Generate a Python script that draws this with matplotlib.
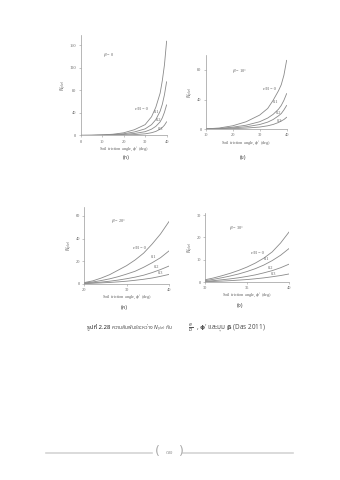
import numpy as np
import matplotlib
matplotlib.use("Agg")
import matplotlib.pyplot as plt

# soil friction angle (deg) and N_gamma(e)
eb_labels = ["e/B = 0", "0.1", "0.2", "0.3"]

phi_a = [0, 5, 10, 15, 20, 25, 30, 33, 35, 37, 38, 39, 40]
ng_a = [
    [0, 0.2, 0.8, 2.0, 4.5, 10, 19, 33, 50, 75, 97, 125, 167],
    [0, 0.1, 0.5, 1.2, 2.8, 6.0, 11.5, 19, 28, 43, 55, 72, 95],
    [0, 0.05, 0.3, 0.7, 1.6, 3.3, 6.5, 11, 16, 24, 31, 41, 54],
    [0, 0.0, 0.1, 0.3, 0.6, 1.3, 2.7, 4.7, 7, 11, 14, 18, 24],
]

phi_b = [10, 15, 20, 25, 30, 33, 35, 37, 38, 39, 40]
ng_b = [
    [0.3, 1.5, 4.5, 10, 19, 28, 39, 52, 60, 73, 93],
    [0.2, 0.9, 2.6, 5.3, 10, 15, 20, 27, 32, 39, 48],
    [0.1, 0.5, 1.6, 3.2, 6.2, 9.5, 13, 18, 21, 26, 32],
    [0.0, 0.2, 0.6, 1.4, 2.8, 4.5, 6.3, 9, 11, 13, 16],
]

phi_c = [20, 22, 24, 26, 28, 30, 32, 34, 36, 38, 40]
ng_c = [
    [1.0, 2.5, 5.0, 8.0, 12, 16, 21, 27, 35, 44, 55],
    [0.6, 1.5, 2.8, 4.3, 6.2, 8.5, 11, 14.5, 18.5, 23, 29],
    [0.3, 0.8, 1.4, 2.2, 3.2, 4.4, 5.8, 7.5, 9.8, 12.5, 15.6],
    [0.1, 0.4, 0.7, 1.1, 1.6, 2.2, 3.0, 3.9, 5.0, 6.5, 8.2],
]

phi_d = [30, 31, 32, 33, 34, 35, 36, 37, 38, 39, 40]
ng_d = [
    [1.0, 1.8, 2.8, 3.9, 5.2, 6.7, 8.5, 10.7, 13.5, 17.5, 22.4],
    [0.6, 1.2, 1.9, 2.7, 3.6, 4.7, 6.0, 7.6, 9.6, 12, 15],
    [0.3, 0.6, 1.0, 1.4, 1.9, 2.5, 3.2, 4.1, 5.1, 6.4, 8.0],
    [0.1, 0.25, 0.4, 0.6, 0.85, 1.1, 1.45, 1.85, 2.35, 2.9, 3.6],
]

beta_text = [r"$\beta$ = 0", r"$\beta$ = 10°", r"$\beta$ = 20°", r"$\beta$ = 30°"]
panel_names = ["(ก)", "(ข)", "(ค)", "(ง)"]

# curve label positions (data coords) per panel
lab_pos = [
    [(28.4, 46.6), (35.3, 40.7), (36.4, 27), (37.4, 11)],
    [(33.8, 53.8), (35.8, 36.6), (36.9, 22), (37.2, 10.4)],
    [(33.1, 31.8), (36.4, 23.2), (37.1, 14.4), (37.9, 9.1)],
    [(36.2, 12.8), (37.3, 10.2), (37.8, 6.4), (38.2, 3.6)],
]

thai = ["Noto Sans Thai", "Loma", "Garuda", "Noto Sans", "DejaVu Sans"]
serif = "Liberation Serif"
gray = "#8a8a8a"
tgray = "#666666"

fig = plt.figure(figsize=(3.4, 4.8), dpi=100)

panels = [
    ([0.237, 0.718, 0.253, 0.209], phi_a, ng_a, (0, 40), [0, 10, 20, 30, 40], (0, 178), [0, 40, 80, 120, 160], (0.26, 0.79)),
    ([0.605, 0.731, 0.238, 0.154], phi_b, ng_b, (10, 40), [10, 20, 30, 40], (0, 100), [0, 40, 80], (0.33, 0.77)),
    ([0.248, 0.409, 0.249, 0.160], phi_c, ng_c, (20, 40), [20, 30, 40], (0, 68), [0, 20, 40, 60], (0.32, 0.8)),
    ([0.603, 0.4125, 0.247, 0.144], phi_d, ng_d, (30, 40), [30, 35, 40], (0, 31), [0, 10, 20, 30], (0.29, 0.77)),
]

for i, (rect, phi, ngs, xl, xt, yl, yt, bpos) in enumerate(panels):
    ax = fig.add_axes(rect)
    for ng in ngs:
        ax.plot(phi, ng, color=gray, lw=0.6)
    ax.set_xlim(*xl)
    ax.set_ylim(*yl)
    ax.set_xticks(xt)
    ax.set_yticks(yt)
    for s in ["top", "right"]:
        ax.spines[s].set_visible(False)
    for s in ["left", "bottom"]:
        ax.spines[s].set_color("#9a9a9a")
        ax.spines[s].set_linewidth(0.5)
    ax.tick_params(labelsize=3.2, colors="#9a9a9a", labelcolor=tgray, length=1.5, width=0.4, pad=1.5)
    for lab in ax.get_xticklabels() + ax.get_yticklabels():
        lab.set_family(serif)
    ax.set_xlabel("Soil friction angle, $\\phi'$ (deg)", fontsize=3.2, family=serif, color=tgray, labelpad=1.5)
    ax.set_ylabel(r"$N_{\gamma(e)}$", fontsize=3.3, color=tgray, labelpad=0.5)
    ax.text(bpos[0], bpos[1], beta_text[i], transform=ax.transAxes, fontsize=3.2, family=serif, color=tgray)
    for txt, (x, y) in zip(eb_labels, lab_pos[i]):
        ax.text(x, y, txt, fontsize=3.2, family=serif, color=tgray, ha="center", va="center")

# panel captions
for name, (x, y) in zip(panel_names, [(126, 157), (243, 157), (124, 307), (240, 306)]):
    fig.text(x / 340, 1 - y / 480, name, fontsize=4, family=thai, color="#444444", ha="center", va="center")

# figure caption
cy = 1 - 328 / 480
fig.text(87 / 340, cy, "รูปที่ 2.28", fontsize=4.3, family=thai, weight="bold", color="#222222", va="center")
fig.text(111 / 340, cy, "ความสัมพันธ์ระหว่าง $N_{\\gamma(e)}$ กับ", fontsize=3.7, family=thai, color="#555555", va="center")
fig.text(191 / 340, cy, r"$\frac{e}{B}$", fontsize=5, color="#555555", va="center", ha="center")
fig.text(196 / 340, cy, r", $\mathbf{\phi}'$ และมุม $\mathbf{\beta}$ (Das 2011)", fontsize=4.6, family=thai, color="#555555", va="center")

# footer
fig.add_artist(plt.Line2D([46 / 340, 152 / 340], [1 - 453 / 480] * 2, color="#d4d4d4", lw=1.2))
fig.add_artist(plt.Line2D([183 / 340, 293 / 340], [1 - 453 / 480] * 2, color="#d4d4d4", lw=1.2))
fig.text(157 / 340, 1 - 452 / 480, "(", fontsize=9, color="#aaaaaa", ha="center", va="center")
fig.text(181 / 340, 1 - 452 / 480, ")", fontsize=9, color="#aaaaaa", ha="center", va="center")
fig.text(169 / 340, 1 - 452 / 480, "๗๒", fontsize=4, family=thai, color="#999999", ha="center", va="center")

fig.savefig("out.png", dpi=100, facecolor="white")
